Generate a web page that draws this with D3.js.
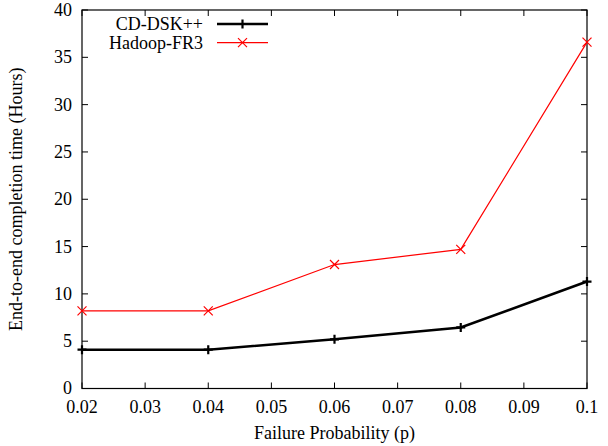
<!DOCTYPE html>
<html>
<head>
<meta charset="utf-8">
<script src="https://cdn.jsdelivr.net/npm/d3@7"></script>
<style>
  body { margin: 0; background: #fff; }
  text { font-family: "Liberation Serif", "Times New Roman", serif; font-size: 18px; fill: #000; }
</style>
</head>
<body>
<div id="chart"></div>
<script>
// failure probability along x
var probs = [0.02, 0.04, 0.06, 0.08, 0.1];
// completion time in hours
var cdDsk = [4.1, 4.1, 5.2, 6.45, 11.3];
var hadoopFr3 = [8.2, 8.2, 13.1, 14.7, 36.6];
var xTicks = [0.02, 0.03, 0.04, 0.05, 0.06, 0.07, 0.08, 0.09, 0.1];
var yTicks = [0, 5, 10, 15, 20, 25, 30, 35, 40];

var series = [
  { name: "CD-DSK++", values: cdDsk, color: "#000", width: 2.6, marker: "plus" },
  { name: "Hadoop-FR3", values: hadoopFr3, color: "#f00", width: 1.2, marker: "cross" }
];

var width = 608, height = 446;
// plot box (window.top is taken, so prefixed names)
var plotLeft = 82, plotRight = 587, plotTop = 10, plotBottom = 388.5;

var svg = d3.select("#chart").append("svg")
    .attr("width", width)
    .attr("height", height);

var x = d3.scaleLinear().domain([0.02, 0.1]).range([plotLeft, plotRight]);
var y = d3.scaleLinear().domain([0, 40]).range([plotBottom, plotTop]);

// ticks on all four sides, pointing in
var tickLen = 6;
var ticks = svg.append("g").attr("stroke", "#000").attr("stroke-width", 1);
xTicks.forEach(function (d) {
  ticks.append("line").attr("x1", x(d)).attr("x2", x(d)).attr("y1", plotBottom).attr("y2", plotBottom - tickLen);
  ticks.append("line").attr("x1", x(d)).attr("x2", x(d)).attr("y1", plotTop).attr("y2", plotTop + tickLen);
});
yTicks.forEach(function (d) {
  ticks.append("line").attr("x1", plotLeft).attr("x2", plotLeft + tickLen).attr("y1", y(d)).attr("y2", y(d));
  ticks.append("line").attr("x1", plotRight).attr("x2", plotRight - tickLen).attr("y1", y(d)).attr("y2", y(d));
});

svg.selectAll(".xlab")
  .data(xTicks)
  .enter().append("text")
    .attr("x", function (d) { return x(d); })
    .attr("y", 413)
    .attr("text-anchor", "middle")
    .text(function (d) { return d === 0.1 ? "0.1" : d3.format(".2f")(d); });

svg.selectAll(".ylab")
  .data(yTicks)
  .enter().append("text")
    .attr("x", 72)
    .attr("y", function (d) { return y(d); })
    .attr("dy", "0.33em")
    .attr("text-anchor", "end")
    .text(function (d) { return d; });

svg.append("text")
    .attr("x", (plotLeft + plotRight) / 2)
    .attr("y", 439)
    .attr("text-anchor", "middle")
    .text("Failure Probability (p)");

svg.append("text")
    .attr("transform", "translate(22," + ((plotTop + plotBottom) / 2) + ") rotate(-90)")
    .attr("text-anchor", "middle")
    .text("End-to-end completion time (Hours)");

// border
svg.append("rect")
    .attr("x", plotLeft).attr("y", plotTop)
    .attr("width", plotRight - plotLeft).attr("height", plotBottom - plotTop)
    .attr("fill", "none").attr("stroke", "#000").attr("stroke-width", 1.2);

function drawMarker(g, cx, cy, kind, color) {
  var s = 4.5;
  if (kind === "plus") {
    g.append("path")
      .attr("d", "M" + (cx - s) + "," + cy + "H" + (cx + s) + "M" + cx + "," + (cy - s) + "V" + (cy + s))
      .attr("stroke", color).attr("stroke-width", 2.2).attr("fill", "none");
  } else {
    g.append("path")
      .attr("d", "M" + (cx - s) + "," + (cy - s) + "L" + (cx + s) + "," + (cy + s) +
                 "M" + (cx - s) + "," + (cy + s) + "L" + (cx + s) + "," + (cy - s))
      .attr("stroke", color).attr("stroke-width", 1.2).attr("fill", "none");
  }
}

var line = d3.line()
    .x(function (d, i) { return x(probs[i]); })
    .y(function (d) { return y(d); });

// red first so the black line stays on top
series.slice().reverse().forEach(function (s) {
  var g = svg.append("g");
  g.append("path")
    .datum(s.values)
    .attr("d", line)
    .attr("fill", "none")
    .attr("stroke", s.color)
    .attr("stroke-width", s.width);
  s.values.forEach(function (v, i) {
    drawMarker(g, x(probs[i]), y(v), s.marker, s.color);
  });
});

// legend
series.forEach(function (s, i) {
  var ly = 24 + i * 18.7;
  svg.append("text")
    .attr("x", 203)
    .attr("y", ly)
    .attr("dy", "0.33em")
    .attr("text-anchor", "end")
    .text(s.name);
  svg.append("line")
    .attr("x1", 217).attr("x2", 268)
    .attr("y1", ly).attr("y2", ly)
    .attr("stroke", s.color).attr("stroke-width", s.width);
  drawMarker(svg, 242.5, ly, s.marker, s.color);
});
</script>
</body>
</html>
